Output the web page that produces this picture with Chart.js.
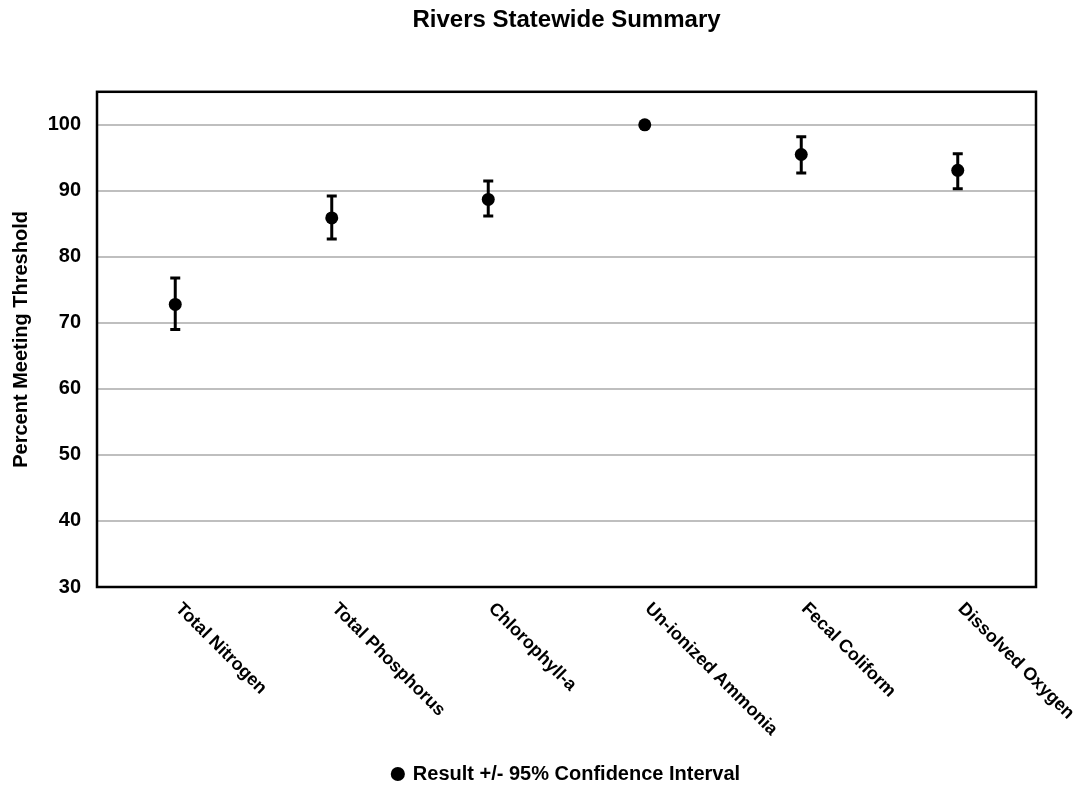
<!DOCTYPE html>
<html>
<head>
<meta charset="utf-8">
<title>Rivers Statewide Summary</title>
<script src="https://cdn.jsdelivr.net/npm/chart.js@4"></script>
<style>
  body { margin: 0; background: #fff; }
  .wrap { width: 1077px; height: 789px; }
</style>
</head>
<body>
<div class="wrap"><canvas id="myChart" width="1077" height="789"></canvas></div>
<script>
const categories = ['Total Nitrogen', 'Total Phosphorus', 'Chlorophyll-a', 'Un-ionized Ammonia', 'Fecal Coliform', 'Dissolved Oxygen'];
const results = [72.8, 85.9, 88.7, 100, 95.5, 93.1];
const upperCI = [76.8, 89.2, 91.5, null, 98.2, 95.6];
const lowerCI = [69.0, 82.7, 86.2, null, 92.7, 90.3];
const yTicks = [30, 40, 50, 60, 70, 80, 90, 100];

const FONT = "'Liberation Sans', Arial, sans-serif";

// error bars under the points
const errorBars = {
  id: 'errorBars',
  beforeDatasetsDraw(chart) {
    const ctx = chart.ctx;
    const x = chart.scales.x;
    const y = chart.scales.y;
    ctx.save();
    ctx.strokeStyle = '#000';
    ctx.lineWidth = 3;
    results.forEach((v, i) => {
      if (upperCI[i] == null) return;
      const px = x.getPixelForValue(i);
      const top = y.getPixelForValue(upperCI[i]);
      const bot = y.getPixelForValue(lowerCI[i]);
      ctx.beginPath();
      ctx.moveTo(px, top);
      ctx.lineTo(px, bot);
      ctx.moveTo(px - 5, top);
      ctx.lineTo(px + 5, top);
      ctx.moveTo(px - 5, bot);
      ctx.lineTo(px + 5, bot);
      ctx.stroke();
    });
    ctx.restore();
  }
};

// box round the plot + slanted category labels
const frameAndLabels = {
  id: 'frameAndLabels',
  afterDraw(chart) {
    const ctx = chart.ctx;
    const a = chart.chartArea;
    const x = chart.scales.x;
    ctx.save();
    ctx.strokeStyle = '#000';
    ctx.lineWidth = 2.5;
    ctx.strokeRect(a.left, a.top, a.right - a.left, a.bottom - a.top);

    ctx.fillStyle = '#000';
    ctx.font = 'bold 18px ' + FONT;
    ctx.textAlign = 'left';
    ctx.textBaseline = 'middle';
    categories.forEach((c, i) => {
      ctx.save();
      ctx.translate(x.getPixelForValue(i) + 3, a.bottom + 19);
      ctx.rotate(Math.PI / 4);
      ctx.fillText(c, 0, 0);
      ctx.restore();
    });
    ctx.restore();
  }
};

const config = {
  type: 'line',
  data: {
    labels: categories,
    datasets: [{
      label: 'Result +/- 95% Confidence Interval',
      data: results,
      showLine: false,
      pointStyle: 'circle',
      pointRadius: 6.5,
      pointHoverRadius: 6.5,
      backgroundColor: '#000',
      borderColor: '#000',
      borderWidth: 0
    }]
  },
  options: {
    responsive: false,
    animation: false,
    events: [],
    layout: { padding: { left: 0, right: 41, top: 0, bottom: -5 } },
    scales: {
      x: {
        offset: true,
        grid: { display: false, drawTicks: false },
        border: { display: false },
        ticks: { display: false },
        afterFit(scale) { scale.height = 167; }
      },
      y: {
        min: 30,
        max: 105,
        afterBuildTicks(axis) { axis.ticks = yTicks.map(v => ({ value: v })); },
        afterFit(scale) { scale.width = 97; },
        grid: { color: '#bfbfbf', lineWidth: 2, drawTicks: false },
        border: { display: false },
        ticks: {
          color: '#000',
          padding: 16,
          font: { family: FONT, size: 20, weight: 'bold' }
        },
        title: {
          display: true,
          text: 'Percent Meeting Threshold',
          color: '#000',
          padding: { top: 9, bottom: 0 },
          font: { family: FONT, size: 20, weight: 'bold' }
        }
      }
    },
    plugins: {
      title: {
        display: true,
        fullSize: false,
        text: 'Rivers Statewide Summary',
        color: '#000',
        padding: { top: 6, bottom: 57 },
        font: { family: FONT, size: 24, weight: 'bold' }
      },
      legend: {
        position: 'bottom',
        fullSize: false,
        labels: {
          usePointStyle: true,
          boxWidth: 10,
          boxHeight: 10,
          padding: 10,
          color: '#000',
          font: { family: FONT, size: 20, weight: 'bold' }
        }
      },
      tooltip: { enabled: false }
    }
  },
  plugins: [errorBars, frameAndLabels]
};

const myChart = new Chart(document.getElementById('myChart'), config);
</script>
</body>
</html>
